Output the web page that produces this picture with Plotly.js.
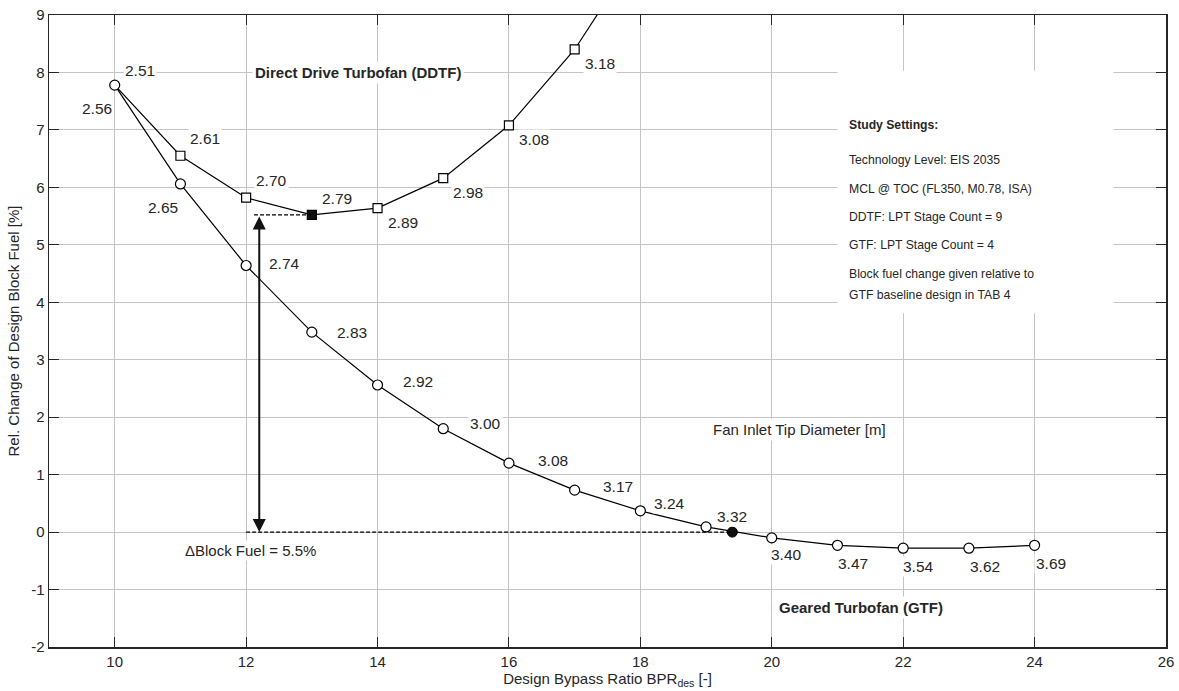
<!DOCTYPE html>
<html>
<head>
<meta charset="utf-8">
<script src="https://cdn.plot.ly/plotly-3.0.1.min.js"></script>
<style>html,body{margin:0;padding:0;background:#fff;}#chart{width:1179px;height:691px;}</style>
</head>
<body>
<div id="chart"></div>
<script>
// ---- data ----
const ddtfX = [10, 11, 12, 13, 14, 15, 16, 17, 18];
const ddtfY = [7.78, 6.55, 5.82, 5.52, 5.64, 6.16, 7.08, 8.40, 10.16];
const ddtfDiam = ['2.51', '2.61', '2.70', '2.79', '2.89', '2.98', '3.08', '3.18'];
const ddtfDesignIndex = 3;

const gtfX = [10, 11, 12, 13, 14, 15, 16, 17, 18, 19, 20, 21, 22, 23, 24];
const gtfY = [7.78, 6.06, 4.64, 3.48, 2.56, 1.80, 1.20, 0.73, 0.37, 0.09, -0.10, -0.23, -0.28, -0.28, -0.23];
const gtfDiam = ['2.56', '2.65', '2.74', '2.83', '2.92', '3.00', '3.08', '3.17', '3.24', '3.32', '3.40', '3.47', '3.54', '3.62', '3.69'];
const gtfBaseX = [19.4];
const gtfBaseY = [0.0];

const deltaBlockFuel = 5.5;
const xTickVals = [10, 12, 14, 16, 18, 20, 22, 24, 26];
const yTickVals = [-2, -1, 0, 1, 2, 3, 4, 5, 6, 7, 8, 9];
const yTickText = ['-2', '-1', '0', '1', '2', '3', '4', '5', '6', '7', '8', '9'];
const settingsLines = [
  '<b>Study Settings:</b>',
  'Technology Level: EIS 2035',
  'MCL @ TOC (FL350, M0.78, ISA)',
  'DDTF: LPT Stage Count = 9',
  'GTF: LPT Stage Count = 4',
  'Block fuel change given relative to',
  'GTF baseline design in TAB 4'
];

// ---- label placement (pixel offsets) ----
const ddtfOff = [[25,15],[25,17],[25,17],[25,16],[25,-14],[25,-14],[25,-14],[25,-14]];
const gtfOff = [[-18,-23],[-17,-24],[38,2],[40,0],[40,4],[42,5],[44,3],[43,4],[29,7],[26,10],[15,-17],[16,-18],[15,-18],[16,-18],[16,-18]];

const FONT = 'Liberation Sans, Arial, sans-serif';
const TXT = '#262626';

// DDTF squares, leaving out the point shared with the GTF circle
const sharedPoint = ddtfX.map((x, i) => gtfX.some((gx, j) => gx === x && gtfY[j] === ddtfY[i]));
const ddtfMarkIdx = ddtfX.map((_, i) => i).filter(i => !sharedPoint[i]);

const traces = [
  {
    x: ddtfX, y: ddtfY, type: 'scatter', mode: 'lines',
    line: {color: '#000', width: 1.2}, hoverinfo: 'skip'
  },
  {
    x: ddtfMarkIdx.map(i => ddtfX[i]), y: ddtfMarkIdx.map(i => ddtfY[i]), type: 'scatter', mode: 'markers',
    marker: {symbol: 'square', size: 9,
      color: ddtfMarkIdx.map(i => i === ddtfDesignIndex ? '#111' : '#fff'),
      line: {color: '#000', width: 1.2}},
    hoverinfo: 'skip'
  },
  {
    x: gtfX, y: gtfY, type: 'scatter', mode: 'lines+markers',
    line: {color: '#000', width: 1.2},
    marker: {symbol: 'circle', size: 10, color: '#fff', line: {color: '#000', width: 1.2}},
    hoverinfo: 'skip'
  },
  {
    x: gtfBaseX, y: gtfBaseY, type: 'scatter', mode: 'markers',
    marker: {symbol: 'circle', size: 10, color: '#111', line: {color: '#000', width: 1}},
    hoverinfo: 'skip'
  }
];

const annotations = [];
ddtfDiam.forEach((t, i) => {
  annotations.push({x: ddtfX[i], y: ddtfY[i], xref: 'x', yref: 'y', text: t, showarrow: false,
    xshift: ddtfOff[i][0], yshift: ddtfOff[i][1], bgcolor: '#fff', borderpad: 1,
    font: {family: FONT, size: 15.5, color: TXT}});
});
gtfDiam.forEach((t, i) => {
  annotations.push({x: gtfX[i], y: gtfY[i], xref: 'x', yref: 'y', text: t, showarrow: false,
    xshift: gtfOff[i][0], yshift: gtfOff[i][1], bgcolor: '#fff', borderpad: 1,
    font: {family: FONT, size: 15.5, color: TXT}});
});

const arrowX = 12.2;
annotations.push({
  x: arrowX, y: gtfBaseY[0], ax: arrowX, ay: ddtfY[ddtfDesignIndex],
  xref: 'x', yref: 'y', axref: 'x', ayref: 'y', text: '', showarrow: true,
  arrowside: 'end+start', arrowhead: 2, arrowsize: 1.3, arrowwidth: 2, arrowcolor: '#111',
  standoff: 0, startstandoff: 0
});

annotations.push({x: 12.06, y: -0.32, xref: 'x', yref: 'y', text: '\u0394Block Fuel = ' + deltaBlockFuel.toFixed(1) + '%',
  showarrow: false, bgcolor: '#fff', borderpad: 1, font: {family: FONT, size: 15, color: TXT}});
annotations.push({x: 13.71, y: 8.0, xref: 'x', yref: 'y', text: '<b>Direct Drive Turbofan (DDTF)</b>',
  showarrow: false, bgcolor: '#fff', borderpad: 2, font: {family: FONT, size: 15, color: TXT}});
annotations.push({x: 21.36, y: -1.31, xref: 'x', yref: 'y', text: '<b>Geared Turbofan (GTF)</b>',
  showarrow: false, bgcolor: '#fff', borderpad: 2, font: {family: FONT, size: 15, color: TXT}});
annotations.push({x: 20.42, y: 1.79, xref: 'x', yref: 'y', text: 'Fan Inlet Tip Diameter [m]',
  showarrow: false, bgcolor: '#fff', borderpad: 2, font: {family: FONT, size: 15, color: TXT}});

const settingsY = [7.08, 6.48, 5.97, 5.48, 4.99, 4.49, 4.13];
settingsLines.forEach((t, i) => {
  annotations.push({x: 21.15, y: settingsY[i], xref: 'x', yref: 'y', xanchor: 'left', text: t,
    showarrow: false, font: {family: FONT, size: 12.2, color: TXT}});
});

const shapes = [
  {type: 'rect', xref: 'x', yref: 'y', x0: 21.0, x1: 25.2, y0: 3.81, y1: 8.03,
   fillcolor: '#fff', line: {width: 0}, layer: 'between'},
  {type: 'line', xref: 'x', yref: 'y', x0: 12.12, x1: ddtfX[ddtfDesignIndex],
   y0: ddtfY[ddtfDesignIndex], y1: ddtfY[ddtfDesignIndex], line: {color: '#000', width: 1.2, dash: '4px,2px'}},
  {type: 'line', xref: 'x', yref: 'y', x0: 12.0, x1: gtfBaseX[0],
   y0: gtfBaseY[0], y1: gtfBaseY[0], line: {color: '#000', width: 1.2, dash: '4px,2px'}}
];

const axisCommon = {
  showline: true, linecolor: '#262626', linewidth: 1.5, mirror: 'ticks',
  ticks: 'inside', ticklen: 10, tickcolor: '#262626', tickwidth: 1,
  showgrid: true, gridcolor: '#c4c4c4', gridwidth: 1, zeroline: false,
  tickfont: {family: FONT, size: 15, color: TXT}
};

const layout = {
  width: 1179, height: 691,
  margin: {l: 49, r: 13, t: 15, b: 44},
  paper_bgcolor: '#fff', plot_bgcolor: '#fff',
  showlegend: false,
  xaxis: Object.assign({}, axisCommon, {
    range: [9, 26], tickmode: 'array', tickvals: xTickVals,
    title: {text: 'Design Bypass Ratio BPR<sub>des</sub> [-]', font: {family: FONT, size: 15, color: TXT}, standoff: 2}
  }),
  yaxis: Object.assign({}, axisCommon, {
    range: [-2, 9], tickmode: 'array', tickvals: yTickVals, ticktext: yTickText,
    title: {text: 'Rel. Change of Design Block Fuel [%]', font: {family: FONT, size: 15, color: TXT}, standoff: 8}
  }),
  annotations: annotations,
  shapes: shapes
};

Plotly.newPlot('chart', traces, layout, {staticPlot: true, displayModeBar: false});
</script>
</body>
</html>
